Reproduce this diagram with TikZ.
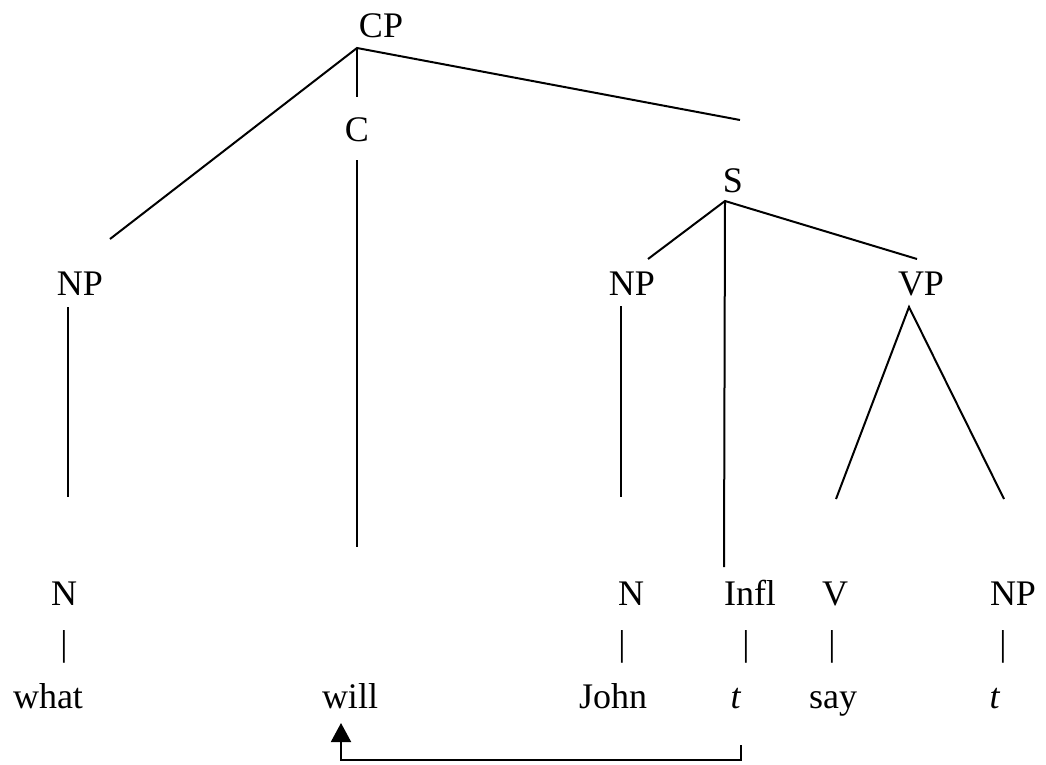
\documentclass[tikz,border=0pt]{standalone}
\usepackage{fontspec}
\setmainfont{Liberation Serif}
\usetikzlibrary{arrows.meta}

\begin{document}
\begin{tikzpicture}[x=1pt, y=-1pt,
    lbl/.style={anchor=base, inner sep=0pt, font=\fontsize{36}{42}\selectfont},
    bar/.style={anchor=center, inner sep=0pt, font=\fontsize{36}{42}\selectfont},
    branch/.style={line width=2pt}]
    \useasboundingbox (0,0) rectangle (1046,764);

    % category labels
    \node[lbl] (cp) at (381,37) {CP};
    \node[lbl] (c) at (357,141) {C};
    \node[lbl] (s) at (733,192) {S};
    \node[lbl] (np-wh) at (80,295) {NP};
    \node[lbl] (np-subj) at (632,295) {NP};
    \node[lbl] (vp) at (921,295) {VP};
    \node[lbl] (n-wh) at (64,605) {N};
    \node[lbl] (n-subj) at (631,605) {N};
    \node[lbl] (infl) at (750,605) {Infl};
    \node[lbl] (v) at (835,605) {V};
    \node[lbl] (np-obj) at (1013,605) {NP};

    % bars under the heads
    \node[bar] (bar-wh) at (64,647) {|};
    \node[bar] (bar-subj) at (622,647) {|};
    \node[bar] (bar-infl) at (746,647) {|};
    \node[bar] (bar-v) at (832,647) {|};
    \node[bar] (bar-obj) at (1003,647) {|};

    % words
    \node[lbl] (what) at (48,708) {what};
    \node[lbl] (will) at (350,708) {will};
    \node[lbl] (john) at (613,708) {John};
    \node[lbl] (t-infl) at (736,708) {\textit{t}};
    \node[lbl] (say) at (833,708) {say};
    \node[lbl] (t-obj) at (995,708) {\textit{t}};

    % branch ends
    \coordinate (cp-foot) at (357,48);
    \coordinate (np-wh-top) at (110,239);
    \coordinate (c-top) at (357,97);
    \coordinate (s-top) at (740,120);
    \coordinate (c-bot) at (357,160);
    \coordinate (c-end) at (357,547);
    \coordinate (s-foot) at (725,201);
    \coordinate (np-subj-top) at (648,259);
    \coordinate (infl-top) at (724,567);
    \coordinate (vp-top) at (917,259);
    \coordinate (np-wh-bot) at (68,307);
    \coordinate (np-wh-end) at (68,497);
    \coordinate (np-subj-bot) at (621,306);
    \coordinate (np-subj-end) at (621,497);
    \coordinate (vp-foot) at (909,307);
    \coordinate (v-top) at (836,499);
    \coordinate (np-obj-top) at (1004,499);

    \draw[branch] (np-wh-top) -- (cp-foot) -- (s-top);
    \draw[branch] (cp-foot) -- (c-top);
    \draw[branch] (c-bot) -- (c-end);
    \draw[branch] (np-subj-top) -- (s-foot) -- (vp-top);
    \draw[branch] (s-foot) -- (infl-top);
    \draw[branch] (np-wh-bot) -- (np-wh-end);
    \draw[branch] (np-subj-bot) -- (np-subj-end);
    \draw[branch] (v-top) -- (vp-foot) -- (np-obj-top);

    % movement of Infl to C
    \coordinate (move-start) at (741,745);
    \coordinate (move-end) at (341,723);
    \draw[branch, -{Triangle[width=20pt,length=19pt]}]
        (move-start) -- (741,760) -| (move-end);
\end{tikzpicture}
\end{document}
